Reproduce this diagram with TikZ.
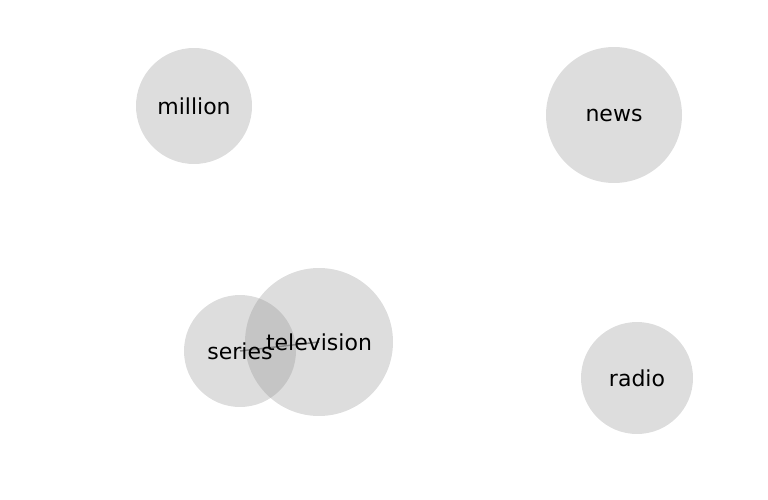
\documentclass[tikz,border=0pt]{standalone}
\usepackage{fontspec}
\setmainfont{DejaVu Sans}
\begin{document}
\begin{tikzpicture}[x=1pt,y=-1pt,
  blob/.style={circle,fill={rgb,1:red,0.56;green,0.56;blue,0.56},fill opacity=0.3,text opacity=1,inner sep=0pt,minimum size=#1},
  lbl/.style={font=\fontsize{22}{26}\selectfont,text=black,inner sep=0pt},
  link/.style={draw={rgb,1:red,0.5;green,0.5;blue,0.5},line width=1.5pt}]
\useasboundingbox (0,0) rectangle (768,500);
\coordinate (cs) at (240,351);
\coordinate (ct) at (319,342);
\draw[link] (cs) -- (ct);
\node[blob=116pt] (million) at (194,106) {};
\node[blob=136pt] (news) at (614,115) {};
\node[blob=112pt] (series) at (cs) {};
\node[blob=148pt] (television) at (ct) {};
\node[blob=112pt] (radio) at (637,378) {};
\node[lbl] (tmillion) at (million.center) {million};
\node[lbl] (tnews) at (news.center) {news};
\node[lbl] (tseries) at (series.center) {series};
\node[lbl] (ttelevision) at (television.center) {television};
\node[lbl] (tradio) at (radio.center) {radio};
\end{tikzpicture}
\end{document}
